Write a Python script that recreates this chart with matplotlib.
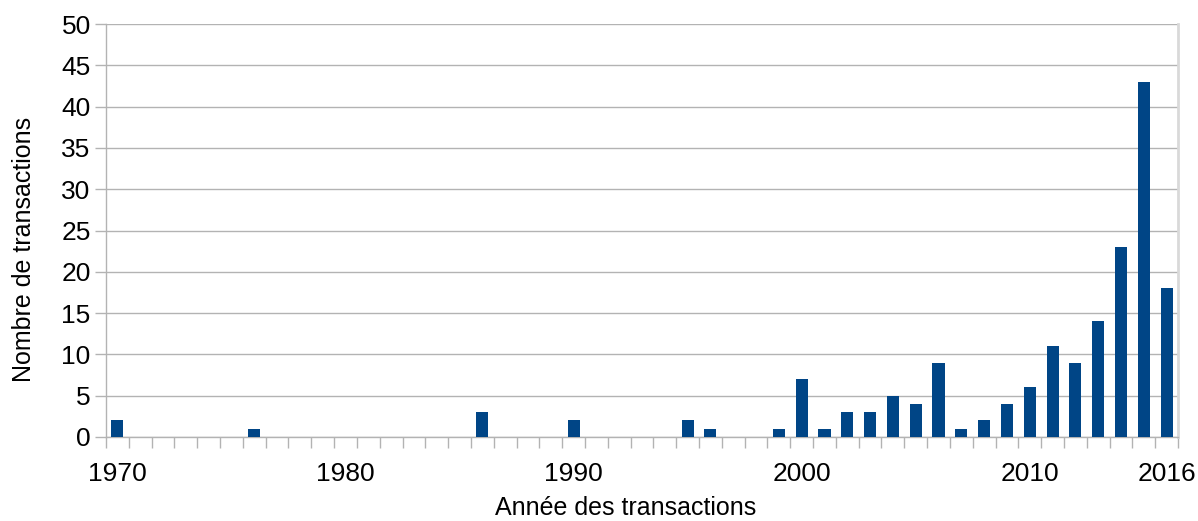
import matplotlib
matplotlib.use("Agg")
import matplotlib.pyplot as plt
import numpy as np

plt.rcParams['font.family'] = ['Liberation Sans', 'DejaVu Sans']

years = list(range(1970, 2017))
counts = [2, 0, 0, 0, 0, 0, 1, 0, 0, 0,
          0, 0, 0, 0, 0, 0, 3, 0, 0, 0,
          2, 0, 0, 0, 0, 2, 1, 0, 0, 1,
          7, 1, 3, 3, 5, 4, 9, 1, 2, 4,
          6, 11, 9, 14, 23, 43, 18]
label_years = [1970, 1980, 1990, 2000, 2010, 2016]
y_ticks = list(range(0, 55, 5))

fig = plt.figure(figsize=(11.98, 5.21), dpi=100)
ax = fig.add_axes([106/1198, 1-437/521, (1178-106)/1198, (437-24)/521])

x = np.arange(len(years))
ax.bar(x, counts, width=0.53, color='#004586', zorder=3)

ax.set_xlim(-0.5, len(years) - 0.5)
ax.set_ylim(0, 50)
ax.set_yticks(y_ticks)
ax.set_yticklabels([str(v) for v in y_ticks], fontsize=19)
ax.yaxis.grid(True, color='#b3b3b3', linewidth=1.0, zorder=0)

ax.set_xticks([years.index(y) for y in label_years])
ax.set_xticklabels([str(y) for y in label_years], fontsize=19)
ax.set_xticks(np.arange(-0.5, len(years), 1.0), minor=True)
ax.tick_params(axis='x', which='major', length=0, pad=18)
ax.tick_params(axis='x', which='minor', length=8, width=1, color='#b3b3b3')
ax.tick_params(axis='y', which='major', length=8, width=1, color='#b3b3b3', pad=3)

for s in ['left', 'bottom']:
    ax.spines[s].set_color('#b3b3b3')
    ax.spines[s].set_linewidth(1.0)
ax.spines['top'].set_visible(False)
ax.spines['right'].set_color('#d9d9d9')
ax.spines['right'].set_linewidth(2.0)

ax.set_xlabel('Année des transactions', fontsize=18)
ax.xaxis.label.set_va('baseline')
ax.xaxis.set_label_coords(0.4846, (437 - 515) / 413)
ax.set_ylabel('Nombre de transactions', fontsize=18)
ax.yaxis.set_label_coords((36 - 106) / 1072, (437 - 249) / 413)

fig.savefig('out.png', dpi=100)
